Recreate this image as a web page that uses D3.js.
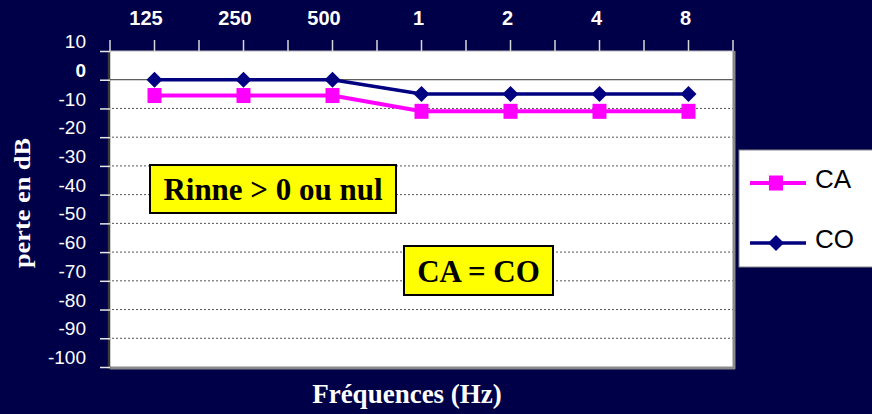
<!DOCTYPE html>
<html>
<head>
<meta charset="utf-8">
<script src="https://cdn.jsdelivr.net/npm/d3@7"></script>
<style>
  html, body { margin: 0; padding: 0; background: #000048; }
  svg { display: block; }
</style>
</head>
<body>
<svg id="chart" width="872" height="414"></svg>
<script>
// frequencies (top axis labels) and hearing loss values in dB
var freqLabels = ["125", "250", "500", "1", "2", "4", "8"];
var caValues = [-5.5, -5.5, -5.5, -11, -11, -11, -11];
var coValues = [0, 0, 0, -5, -5, -5, -5];
var yTicks = [10, 0, -10, -20, -30, -40, -50, -60, -70, -80, -90, -100];
var seriesNames = ["CA", "CO"];
var notes = ["Rinne > 0 ou nul", "CA = CO"];

var svg = d3.select("#chart");
var plot = {left: 110, right: 733, top: 51, bottom: 367};

var x = d3.scaleBand()
          .domain(freqLabels)
          .range([plot.left, plot.right]);
var y = d3.scaleLinear()
          .domain([10, -100])
          .range([plot.top, plot.bottom]);

svg.append("rect")
   .attr("width", 872).attr("height", 414)
   .attr("fill", "#000048");

// white plot area
svg.append("rect")
   .attr("x", plot.left).attr("y", plot.top)
   .attr("width", plot.right - plot.left)
   .attr("height", plot.bottom - plot.top)
   .attr("fill", "#fff");

// dotted grid lines
svg.selectAll(".grid-line-y")
   .data(yTicks.filter(function(d) { return d < 0 && d > -100; }))
   .enter()
   .append("line")
   .attr("class", "grid-line-y")
   .attr("x1", plot.left + 2).attr("x2", plot.right)
   .attr("y1", function(d) { return y(d); })
   .attr("y2", function(d) { return y(d); })
   .attr("stroke", "#555")
   .attr("stroke-width", 1)
   .attr("stroke-dasharray", "2,2");

// zero line
svg.append("line")
   .attr("x1", plot.left).attr("x2", plot.right)
   .attr("y1", y(0)).attr("y2", y(0))
   .attr("stroke", "#333")
   .attr("stroke-width", 1);

// plot borders
svg.append("line")
   .attr("x1", plot.left).attr("x2", plot.right)
   .attr("y1", plot.top).attr("y2", plot.top)
   .attr("stroke", "#bbb").attr("stroke-width", 1);
svg.append("line")
   .attr("x1", plot.right + 1).attr("x2", plot.right + 1)
   .attr("y1", plot.top).attr("y2", plot.bottom + 2)
   .attr("stroke", "#8a8a8a").attr("stroke-width", 3);
svg.append("line")
   .attr("x1", plot.left).attr("x2", plot.right + 2)
   .attr("y1", plot.bottom + 1).attr("y2", plot.bottom + 1)
   .attr("stroke", "#8a8a8a").attr("stroke-width", 3);
svg.append("line")
   .attr("x1", plot.left - 1).attr("x2", plot.left - 1)
   .attr("y1", plot.top).attr("y2", plot.bottom + 2)
   .attr("stroke", "#3a3a3a").attr("stroke-width", 2.5);

// y axis (left)
var yaxisG = svg.append("g")
   .attr("class", "axis axis-y")
   .attr("transform", "translate(" + plot.left + ",0)")
   .call(d3.axisLeft(y)
           .tickValues(yTicks)
           .tickSize(10)
           .tickPadding(14)
           .tickFormat(function(d) { return d; }));
yaxisG.select(".domain").remove();
yaxisG.selectAll(".tick line")
      .attr("stroke", "#e8e8e8")
      .attr("stroke-width", 1.5);
yaxisG.selectAll(".tick text")
      .attr("fill", "#fff")
      .attr("font-family", "Liberation Sans, Arial, sans-serif")
      .attr("font-size", 19)
      .attr("font-weight", function(d) { return d === 0 ? "bold" : "normal"; })
      .attr("dy", "-0.18em");

// x axis on top: ticks at band edges and centres
var xTickPos = [];
freqLabels.forEach(function(f) {
    xTickPos.push(x(f));
    xTickPos.push(x(f) + x.bandwidth() / 2);
});
xTickPos.push(plot.right);
svg.selectAll(".tick-x")
   .data(xTickPos)
   .enter()
   .append("line")
   .attr("class", "tick-x")
   .attr("x1", function(d) { return d; })
   .attr("x2", function(d) { return d; })
   .attr("y1", plot.top - 11).attr("y2", plot.top)
   .attr("stroke", "#d8d8d8")
   .attr("stroke-width", 1.5);
svg.selectAll(".label-x")
   .data(freqLabels)
   .enter()
   .append("text")
   .attr("class", "label-x")
   .attr("x", function(d) { return x(d) + x.bandwidth() / 2 - 3 - (d.length - 1) * 2.75; })
   .attr("y", 25)
   .attr("text-anchor", "middle")
   .attr("fill", "#fff")
   .attr("font-family", "Liberation Sans, Arial, sans-serif")
   .attr("font-weight", "bold")
   .attr("font-size", 20)
   .text(function(d) { return d; });

// series
var cx = function(d, i) { return x(freqLabels[i]) + x.bandwidth() / 2; };
var line = d3.line()
             .x(function(d, i) { return cx(d, i); })
             .y(function(d) { return y(d); });

svg.append("path")
   .datum(coValues)
   .attr("d", line)
   .attr("fill", "none")
   .attr("stroke", "#000080")
   .attr("stroke-width", 3.5);
svg.append("path")
   .datum(caValues)
   .attr("d", line)
   .attr("fill", "none")
   .attr("stroke", "#ff00ff")
   .attr("stroke-width", 4);

var diamond = "M0,-8L8,0L0,8L-8,0Z";
svg.selectAll(".mark-co")
   .data(coValues)
   .enter()
   .append("path")
   .attr("class", "mark-co")
   .attr("d", diamond)
   .attr("transform", function(d, i) { return "translate(" + cx(d, i) + "," + y(d) + ")"; })
   .attr("fill", "#000080");
svg.selectAll(".mark-ca")
   .data(caValues)
   .enter()
   .append("rect")
   .attr("class", "mark-ca")
   .attr("x", function(d, i) { return cx(d, i) - 7; })
   .attr("y", function(d) { return y(d) - 7.5; })
   .attr("width", 14).attr("height", 15)
   .attr("fill", "#ff00ff");

// yellow note boxes
var noteBoxes = [
    {x: 150, y: 165, w: 246, h: 48},
    {x: 404, y: 246, w: 149, h: 49}
];
notes.forEach(function(t, i) {
    var b = noteBoxes[i];
    svg.append("rect")
       .attr("x", b.x).attr("y", b.y)
       .attr("width", b.w).attr("height", b.h)
       .attr("fill", "#ffff00")
       .attr("stroke", "#000")
       .attr("stroke-width", 2);
    svg.append("text")
       .attr("x", b.x + b.w / 2)
       .attr("y", b.y + b.h / 2 + 11)
       .attr("text-anchor", "middle")
       .attr("font-family", "Liberation Serif, Times New Roman, serif")
       .attr("font-weight", "bold")
       .attr("font-size", 31)
       .attr("fill", "#000")
       .text(t);
});

// legend
var legend = svg.append("g").attr("class", "legend");
legend.append("rect")
      .attr("x", 739).attr("y", 150)
      .attr("width", 140).attr("height", 117)
      .attr("fill", "#fff")
      .attr("stroke", "#888")
      .attr("stroke-width", 1);
var legendY = d3.scalePoint().domain(seriesNames).range([183, 243]);
legend.selectAll(".legend-line")
      .data(seriesNames)
      .enter()
      .append("line")
      .attr("x1", 750).attr("x2", 806)
      .attr("y1", function(d) { return legendY(d); })
      .attr("y2", function(d) { return legendY(d); })
      .attr("stroke", function(d) { return d === "CA" ? "#ff00ff" : "#000080"; })
      .attr("stroke-width", function(d) { return d === "CA" ? 4 : 3.5; });
legend.append("rect")
      .attr("x", 776 - 7).attr("y", legendY("CA") - 7.5)
      .attr("width", 14).attr("height", 15)
      .attr("fill", "#ff00ff");
legend.append("path")
      .attr("d", diamond)
      .attr("transform", "translate(776," + legendY("CO") + ")")
      .attr("fill", "#000080");
legend.selectAll(".legend-text")
      .data(seriesNames)
      .enter()
      .append("text")
      .attr("x", 815)
      .attr("y", function(d) { return legendY(d) + 5; })
      .attr("font-family", "Liberation Sans, Arial, sans-serif")
      .attr("font-size", 26)
      .attr("fill", "#000")
      .text(function(d) { return d; });

// axis titles
svg.append("text")
   .attr("x", 407).attr("y", 403)
   .attr("text-anchor", "middle")
   .attr("font-family", "Liberation Serif, Times New Roman, serif")
   .attr("font-weight", "bold")
   .attr("font-size", 27)
   .attr("fill", "#fff")
   .text("Fréquences (Hz)");
svg.append("text")
   .attr("transform", "translate(30,203) rotate(-90)")
   .attr("text-anchor", "middle")
   .attr("font-family", "Liberation Serif, Times New Roman, serif")
   .attr("font-weight", "bold")
   .attr("font-size", 23)
   .attr("textLength", 130)
   .attr("lengthAdjust", "spacingAndGlyphs")
   .attr("fill", "#fff")
   .text("perte en dB");
</script>
</body>
</html>
